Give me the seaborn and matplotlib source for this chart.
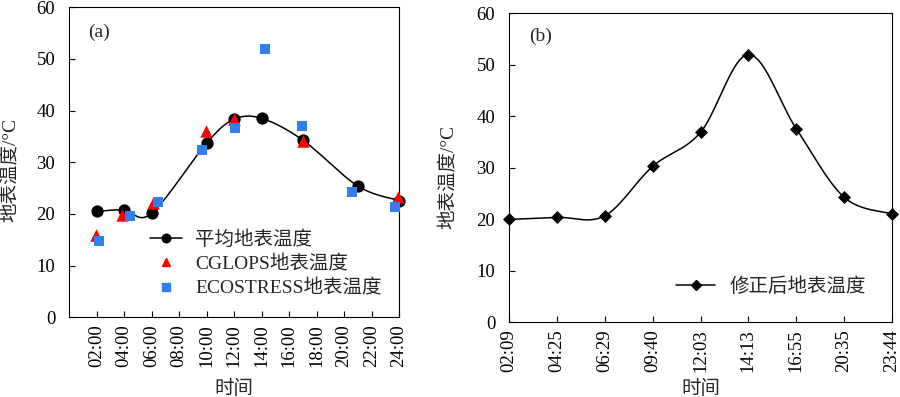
import numpy as np
import pandas as pd
import matplotlib
matplotlib.use("Agg")
import matplotlib.pyplot as plt
from matplotlib.lines import Line2D
import seaborn as sns

# panel (a): hours of day and land surface temperature
avg_hours = [2, 4, 6, 10, 12, 14, 17, 21, 24]
avg_lst = [20.5, 20.8, 20.1, 33.7, 38.3, 38.5, 34.3, 25.4, 22.6]
cglops_hours = [1.95, 3.85, 6.1, 9.95, 12.0, 17.0, 23.9]
cglops_lst = [16.0, 19.8, 22.1, 36.0, 38.4, 34.1, 23.3]
eco_hours = [2.15, 4.42, 6.48, 9.67, 12.05, 14.22, 16.92, 20.58, 23.73]
eco_lst = [14.7, 19.6, 22.3, 32.4, 36.7, 51.9, 37.0, 24.2, 21.3]
a_ticks = [2, 4, 6, 8, 10, 12, 14, 16, 18, 20, 22, 24]

# panel (b): corrected temperature at ECOSTRESS overpass times
b_times = ["02:09", "04:25", "06:29", "09:40", "12:03", "14:13", "16:55", "20:35", "23:44"]
b_lst = [20.0, 20.4, 20.7, 30.3, 36.9, 52.0, 37.6, 24.3, 21.1]

sns.set_theme(style="ticks")
plt.rcParams["font.family"] = ["Liberation Serif", "Noto Sans CJK SC"]
plt.rcParams["axes.unicode_minus"] = False
plt.rcParams["xtick.direction"] = "in"
plt.rcParams["ytick.direction"] = "in"
plt.rcParams["axes.linewidth"] = 0.8
plt.rcParams["axes.edgecolor"] = "black"

FS = 13.5
RED = "#FF0000"
BLUE = "#2F7FEF"


def smooth_curve(ax, x, y, n=40):
    # excel-like smoothed line, built in display space
    P = ax.transData.transform(np.column_stack([x, y]))
    out = []
    t = np.linspace(0, 1, n)[:, None]
    for i in range(len(P) - 1):
        p0 = P[i - 1] if i > 0 else P[i]
        p1, p2 = P[i], P[i + 1]
        p3 = P[i + 2] if i + 2 < len(P) else P[i + 1]
        c1 = p1 + (p2 - p0) / 6
        c2 = p2 - (p3 - p1) / 6
        seg = ((1 - t) ** 3) * p1 + 3 * ((1 - t) ** 2) * t * c1 + 3 * (1 - t) * t ** 2 * c2 + t ** 3 * p2
        out.append(seg)
    curve = ax.transData.inverted().transform(np.vstack(out))
    return curve[:, 0], curve[:, 1]


def style_axes(ax):
    for s in ax.spines.values():
        s.set_visible(True)
        s.set_color("black")
        s.set_linewidth(0.8)
    ax.tick_params(axis="both", labelsize=FS, length=4, width=0.8, colors="black")
    ax.tick_params(axis="y", pad=10)
    ax.tick_params(axis="x", pad=5, labelrotation=90)
    ax.set_ylim(0, 60)
    ax.set_yticks(range(0, 61, 10))


fig = plt.figure(figsize=(9, 3.97), dpi=100)
ax1 = fig.add_axes([0.0767, 0.2008, 0.3667, 0.7808])
ax2 = fig.add_axes([0.5656, 0.1877, 0.4255, 0.7788])

# ---- panel (a)
style_axes(ax1)
ax1.set_xlim(0, 24)
ax1.set_xticks(a_ticks)
ax1.set_xticklabels([f"{h:02d}:00" for h in a_ticks])

df_avg = pd.DataFrame({"hour": avg_hours, "lst": avg_lst})
df_cg = pd.DataFrame({"hour": cglops_hours, "lst": cglops_lst})
df_eco = pd.DataFrame({"hour": eco_hours, "lst": eco_lst})

sx, sy = smooth_curve(ax1, avg_hours, avg_lst)
ax1.plot(sx, sy, color="black", lw=1.1, clip_on=False, zorder=2)
sns.scatterplot(data=df_avg, x="hour", y="lst", ax=ax1, color="black", marker="o",
                s=78, linewidth=0, clip_on=False, zorder=3, legend=False)
sns.scatterplot(data=df_cg, x="hour", y="lst", ax=ax1, color=RED, marker="^",
                s=80, linewidth=0, clip_on=False, zorder=4, legend=False)
sns.scatterplot(data=df_eco, x="hour", y="lst", ax=ax1, color=BLUE, marker="s",
                s=62, linewidth=0, clip_on=False, zorder=5, legend=False)

handles_a = [
    Line2D([], [], color="black", lw=1.1, marker="o", ms=6.2),
    Line2D([], [], color=RED, lw=0, marker="^", ms=6.4),
    Line2D([], [], color=BLUE, lw=0, marker="s", ms=5.8),
]
ax1.legend(handles_a, ["平均地表温度", "CGLOPS地表温度", "ECOSTRESS地表温度"],
           loc="center left", bbox_to_anchor=(0.2455, 0.172), frameon=False,
           fontsize=14, handlelength=1.63, handletextpad=0.68, labelspacing=0.32,
           borderpad=0, borderaxespad=0)
ax1.text(0.058, 0.92, "(a)", transform=ax1.transAxes, fontsize=14, ha="left", va="center")
ax1.set_xlabel("时间", fontsize=14)
ax1.set_ylabel("地表温度/°C", fontsize=14)
ax1.xaxis.set_label_coords(0.5, -0.202)
ax1.yaxis.set_label_coords(-0.15, 0.475)

# ---- panel (b)
style_axes(ax2)
xb = np.arange(len(b_times))
ax2.set_xlim(0, len(b_times) - 1)
ax2.set_xticks(xb)
ax2.set_xticklabels(b_times)

df_b = pd.DataFrame({"idx": xb, "lst": b_lst})
bx, by = smooth_curve(ax2, xb, b_lst)
ax2.plot(bx, by, color="black", lw=1.1, clip_on=False, zorder=2)
sns.scatterplot(data=df_b, x="idx", y="lst", ax=ax2, color="black", marker="D",
                s=44, linewidth=0, clip_on=False, zorder=3, legend=False)
handles_b = [Line2D([], [], color="black", lw=1.1, marker="D", ms=5.0)]
ax2.legend(handles_b, ["修正后地表温度"], loc="center left", bbox_to_anchor=(0.437, 0.115),
           frameon=False, fontsize=14, handlelength=1.97, handletextpad=0.77,
           borderpad=0, borderaxespad=0)
ax2.text(0.052, 0.924, "(b)", transform=ax2.transAxes, fontsize=14, ha="left", va="center")
ax2.set_xlabel("时间", fontsize=14)
ax2.set_ylabel("地表温度/°C", fontsize=14)
ax2.xaxis.set_label_coords(0.5, -0.186)
ax2.yaxis.set_label_coords(-0.135, 0.47)

fig.savefig("out.png", dpi=100)
